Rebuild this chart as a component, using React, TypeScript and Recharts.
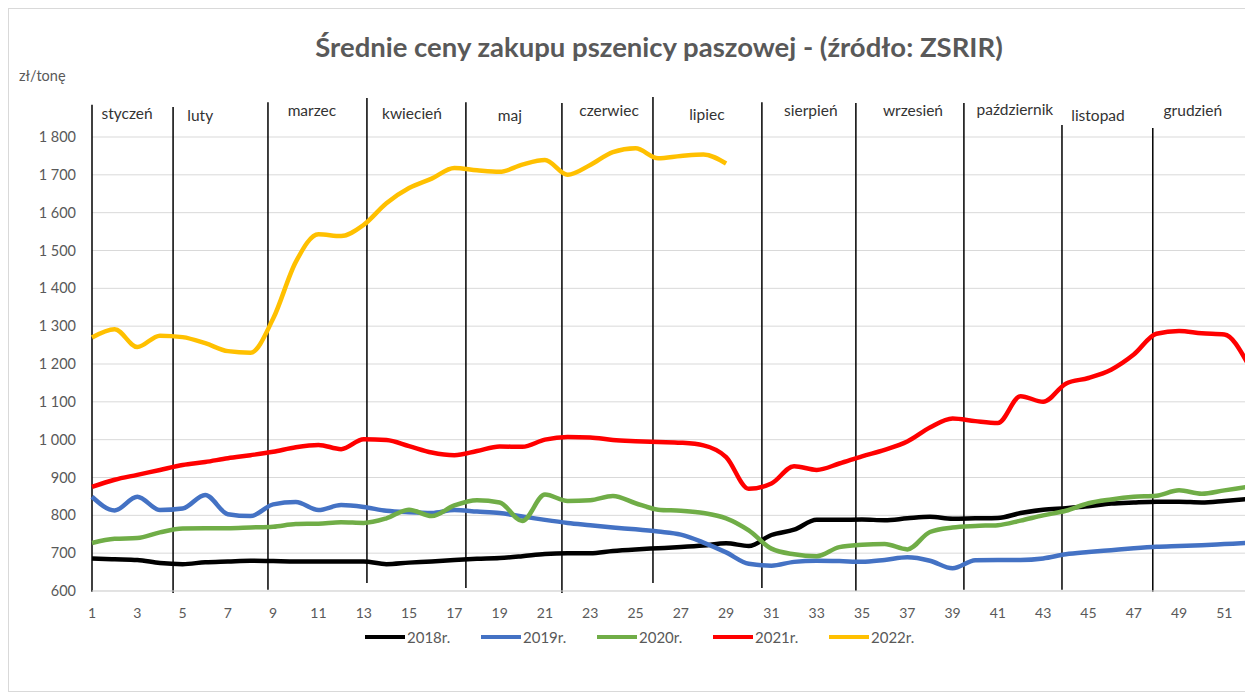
import React from 'react';
import {
  LineChart,
  Line,
  XAxis,
  YAxis,
  CartesianGrid,
  Legend,
  ReferenceLine,
  ReferenceDot,
} from 'recharts';

// ---- data ----
const weeks: number[] = Array.from({ length: 52 }, (_, i) => i + 1);

const y2018: number[] = [
  686, 684, 682, 674, 671, 676, 678, 680, 679, 678, 678, 678, 678, 671, 675, 678, 682, 685, 687, 692,
  698, 700, 700, 706, 710, 713, 716, 720, 726, 719, 748, 762, 788, 788, 789, 787, 792, 796, 791, 792,
  793, 806, 815, 819, 824, 831, 834, 836, 836, 834, 838, 843,
];
const y2019: number[] = [
  849, 813, 849, 814, 818, 854, 803, 798, 829, 835, 814, 827, 822, 812, 808, 806, 814, 810, 806, 797,
  788, 780, 774, 768, 763, 757, 749, 728, 702, 672, 667, 677, 680, 679, 677, 682, 689, 680, 660, 681,
  682, 682, 686, 697, 703, 708, 713, 717, 719, 721, 724, 727,
];
const y2020: number[] = [
  727, 738, 740, 755, 765, 766, 766, 768, 770, 777, 778, 782, 780, 792, 815, 798, 826, 840, 834, 785,
  855, 838, 840, 851, 832, 815, 812, 806, 792, 760, 712, 697, 692, 716, 722, 724, 710, 756, 768, 772,
  774, 786, 800, 812, 832, 842, 849, 852, 866, 857, 866, 875,
];
const y2021: number[] = [
  875, 894, 907, 920, 933, 941, 951, 959, 968, 980, 986, 975, 1001, 999, 983, 966, 959, 970, 982, 981,
  1000, 1007, 1006, 999, 996, 994, 992, 985, 954, 870, 884, 930, 920, 937, 956, 973, 995, 1032, 1056, 1049,
  1044, 1115, 1100, 1148, 1163, 1185, 1225, 1280, 1287, 1281, 1278, 1205,
];
const y2022: number[] = [
  1270, 1292, 1245, 1275, 1271, 1255, 1234, 1230, 1320, 1470, 1543, 1538, 1568, 1625, 1665, 1690, 1718, 1712, 1708, 1727,
  1739, 1700, 1726, 1760, 1770, 1744, 1750, 1754, 1730,
];

const seriesNames: string[] = ['2018r.', '2019r.', '2020r.', '2021r.', '2022r.'];
const seriesValues: number[][] = [y2018, y2019, y2020, y2021, y2022];
const seriesColors: string[] = ['#000000', '#4472C4', '#70AD47', '#FF0000', '#FFC000'];

const xTicks: number[] = [1, 3, 5, 7, 9, 11, 13, 15, 17, 19, 21, 23, 25, 27, 29, 31, 33, 35, 37, 39, 41, 43, 45, 47, 49, 51];
const yTicks: number[] = [600, 700, 800, 900, 1000, 1100, 1200, 1300, 1400, 1500, 1600, 1700, 1800];

// month separators (week position, top value, bottom value)
const monthLineWeeks: number[] = [1, 4.58, 8.77, 13.14, 17.51, 21.75, 25.77, 30.58, 34.73, 39.5, 43.83, 47.84];
const monthLineTops: number[] = [1885, 1879, 1892, 1903, 1892, 1890, 1906, 1892, 1890, 1890, 1832, 1824];
const monthLineBottoms: number[] = [598, 595, 603, 621, 608, 595, 621, 608, 600, 603, 603, 598];

const monthNames: string[] = [
  'styczeń', 'luty', 'marzec', 'kwiecień', 'maj', 'czerwiec',
  'lipiec', 'sierpień', 'wrzesień', 'październik', 'listopad', 'grudzień',
];
const monthLabelWeeks: number[] = [2.55, 5.78, 10.71, 15.13, 19.45, 23.83, 28.15, 32.74, 37.25, 41.75, 45.42, 49.61];
const monthLabelValues: number[] = [1864, 1858, 1871, 1864, 1858, 1871, 1861, 1871, 1871, 1874, 1858, 1871];

const tableData = weeks.map((w, i) => {
  const row: Record<string, number | undefined> = { week: w };
  seriesNames.forEach((n, s) => {
    row[n] = seriesValues[s][i];
  });
  return row;
});

const FONT = 'Lato, "Open Sans", sans-serif';

const fmtY = (v: number) => {
  if (v >= 1000) {
    const th = Math.floor(v / 1000);
    const rest = String(v % 1000).padStart(3, '0');
    return `${th} ${rest}`;
  }
  return String(v);
};

const renderLegend = (props: any) => {
  const payload = props.payload || [];
  return (
    <div style={{ display: 'flex', alignItems: 'center', fontFamily: FONT, fontSize: 15, color: '#595959' }}>
      {payload.map((entry: any) => (
        <div key={entry.value} style={{ display: 'flex', alignItems: 'center', width: 116 }}>
          <span style={{ display: 'inline-block', width: 40, height: 4, background: entry.color, marginRight: 2 }} />
          <span>{entry.value}</span>
        </div>
      ))}
    </div>
  );
};

export default function App() {
  return (
    <div
      style={{
        position: 'relative',
        width: 1245,
        height: 684,
        boxSizing: 'border-box',
        border: '1px solid #d9d9d9',
        background: '#ffffff',
        fontFamily: FONT,
        overflow: 'hidden',
      }}
    >
      <div
        style={{
          position: 'absolute',
          left: 250,
          top: 21,
          width: 800,
          textAlign: 'center',
          fontSize: 27.5,
          lineHeight: '34px',
          fontWeight: 700,
          color: '#595959',
          zIndex: 2,
        }}
      >
        Średnie ceny zakupu pszenicy paszowej - (źródło: ZSRIR)
      </div>
      <div
        style={{
          position: 'absolute',
          left: 10,
          top: 57,
          fontSize: 14.5,
          lineHeight: '20px',
          color: '#595959',
          zIndex: 2,
        }}
      >
        zł/tonę
      </div>
      <LineChart
        width={1243}
        height={682}
        data={tableData}
        margin={{ top: 128, right: 5, bottom: 70, left: 0 }}
      >
        <CartesianGrid vertical={false} stroke="#d9d9d9" strokeWidth={1} />
        <XAxis
          dataKey="week"
          type="number"
          domain={[1, 52]}
          ticks={xTicks}
          interval={0}
          height={30}
          tickLine={false}
          tickSize={0}
          tickMargin={17}
          axisLine={{ stroke: '#d9d9d9' }}
          tick={{ fill: '#595959', fontSize: 14 }}
        />
        <YAxis
          type="number"
          domain={[600, 1800]}
          ticks={yTicks}
          interval={0}
          width={83}
          axisLine={false}
          tickLine={false}
          tickSize={0}
          tickMargin={16}
          tickFormatter={fmtY}
          tick={{ fill: '#595959', fontSize: 14.5 }}
        />
        {monthLineWeeks.map((w, i) => (
          <ReferenceLine
            key={`ml-${i}`}
            segment={[
              { x: w, y: monthLineTops[i] },
              { x: w, y: monthLineBottoms[i] },
            ]}
            stroke="#000000"
            strokeWidth={1.5}
            ifOverflow="visible"
          />
        ))}
        {monthNames.map((name, i) => (
          <ReferenceDot
            key={`mn-${i}`}
            x={monthLabelWeeks[i]}
            y={monthLabelValues[i]}
            r={0}
            ifOverflow="visible"
            shape={(p: any) => (
              <text
                x={p.cx}
                y={p.cy}
                textAnchor="middle"
                dominantBaseline="central"
                fontSize={15.5}
                fill="#333333"
              >
                {name}
              </text>
            )}
          />
        ))}
        {seriesNames.map((n, s) => (
          <Line
            key={n}
            name={n}
            dataKey={n}
            type="monotone"
            stroke={seriesColors[s]}
            strokeWidth={4.5}
            dot={false}
            activeDot={false}
            isAnimationActive={false}
          />
        ))}
        <Legend
          verticalAlign="middle"
          align="center"
          layout="horizontal"
          content={renderLegend}
          wrapperStyle={{ top: 619, left: 356, width: 'auto', height: 20 }}
        />
      </LineChart>
    </div>
  );
}
